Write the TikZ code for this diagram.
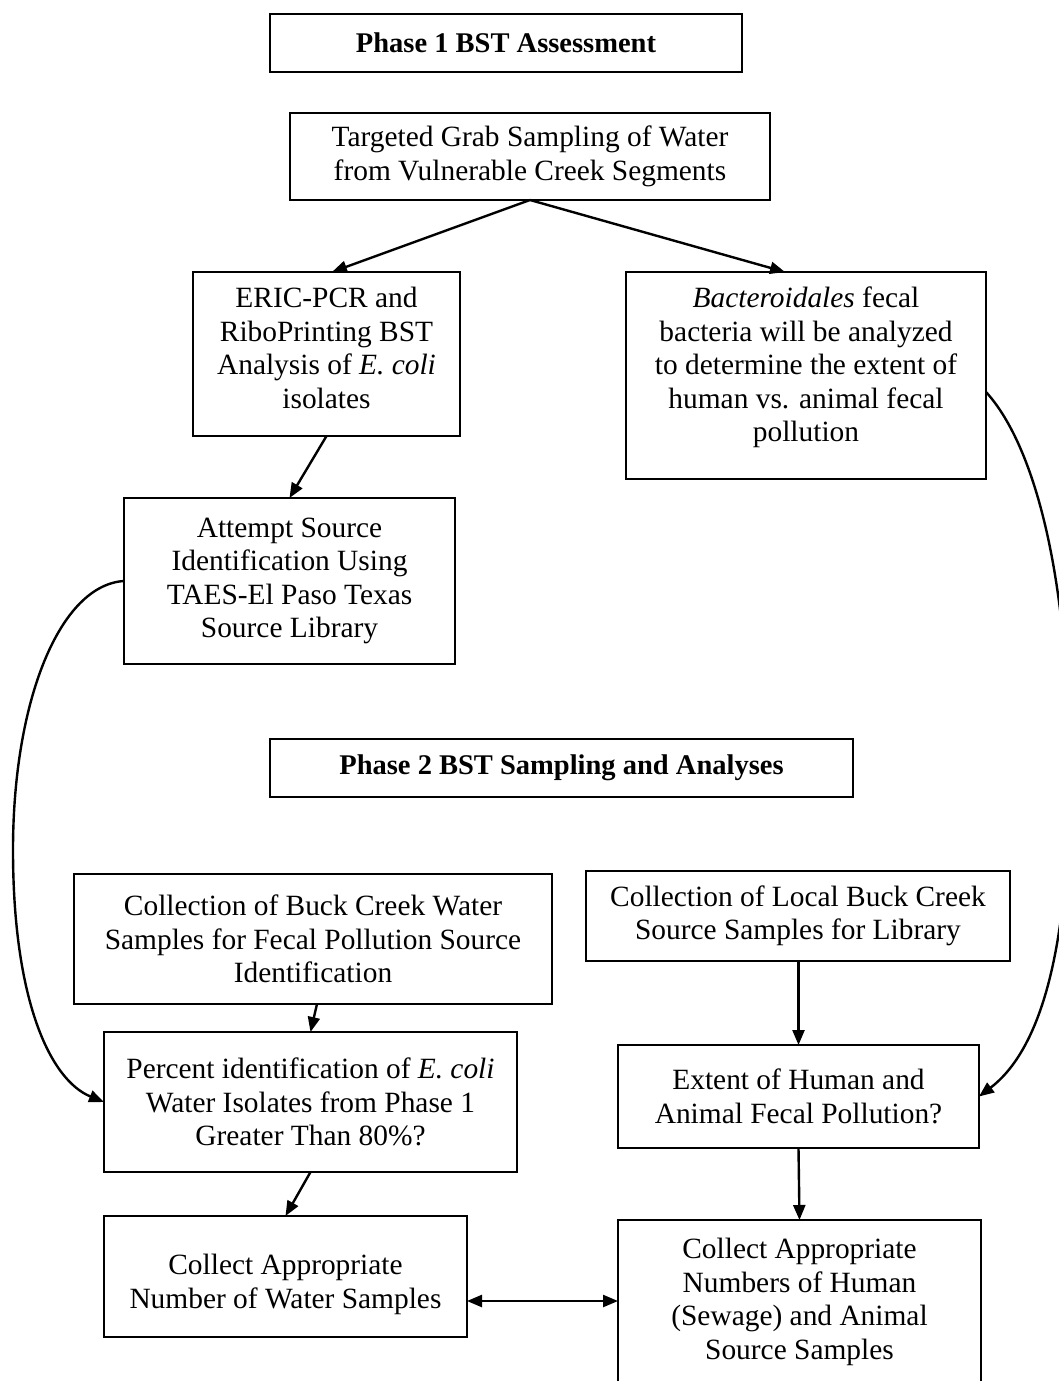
\documentclass[tikz,border=0pt]{standalone}
\usepackage{fontspec}
\setmainfont{Liberation Serif}
\usetikzlibrary{arrows.meta}
\begin{document}
\begin{tikzpicture}[x=1pt,y=-1pt,
  box/.style={draw, line width=2pt, inner sep=0pt, outer sep=0pt, align=center,
    font=\fontsize{29.4}{33.5}\selectfont},
  titlebox/.style={box, font=\fontsize{28.5}{33}\selectfont\bfseries},
  conn/.style={line width=2.4pt, -{Triangle[length=15pt,width=12pt]}},
  dconn/.style={line width=2.4pt, {Triangle[length=15pt,width=12pt]}-{Triangle[length=15pt,width=12pt]}},
]
\useasboundingbox (0,0) rectangle (1059,1381);
\clip (0,0) rectangle (1059,1381);

\node[titlebox, minimum width=472pt, minimum height=58pt] (p1) at (506,43) {Phase 1 BST Assessment};
\node[box, minimum width=480pt, minimum height=87pt] (tg) at (530,156.5)
  {Targeted Grab Sampling of Water\\from Vulnerable Creek Segments};
\node[box, minimum width=267pt, minimum height=164pt] (eric) at (326.5,354)
  {ERIC-PCR and\\RiboPrinting BST\\Analysis of \textit{E. coli}\\isolates\\[-21.5pt]\mbox{}};
\node[box, minimum width=360pt, minimum height=207pt] (bact) at (806,375.5)
  {\textit{Bacteroidales} fecal\\bacteria will be analyzed\\to determine the extent of\\human vs. animal fecal\\pollution\\[-11pt]\mbox{}};
\node[box, minimum width=331pt, minimum height=166pt] (att) at (289.5,581)
  {Attempt Source\\Identification Using\\TAES-El Paso Texas\\Source Library};
\node[titlebox, minimum width=583pt, minimum height=58pt] (p2) at (561.5,768) {Phase 2 BST Sampling and Analyses};
\node[box, minimum width=478pt, minimum height=130pt] (coll) at (313,939)
  {Collection of Buck Creek Water\\Samples for Fecal Pollution Source\\Identification};
\node[box, minimum width=424pt, minimum height=90pt] (loc) at (798,916)
  {Collection of Local Buck Creek\\Source Samples for Library};
\node[box, minimum width=413pt, minimum height=140pt] (pct) at (310.5,1102)
  {Percent identification of \textit{E. coli}\\Water Isolates from Phase 1\\Greater Than 80\%?};
\node[box, minimum width=361pt, minimum height=103pt] (ext) at (798.5,1096.5)
  {Extent of Human and\\Animal Fecal Pollution?};
\node[box, minimum width=363pt, minimum height=121pt] (num) at (285.5,1276.5)
  {\mbox{}\\[3pt]Collect Appropriate\\Number of Water Samples};
\node[box, minimum width=363pt, minimum height=164pt] (nums) at (799.5,1302)
  {Collect Appropriate\\Numbers of Human\\(Sewage) and Animal\\Source Samples};

\draw[conn] (tg.south) -- ([xshift=5.5pt]eric.north);
\draw[conn] (tg.south) -- ([xshift=-21pt]bact.north);
\draw[conn] (eric.south) -- (att.north);
\draw[conn] ([xshift=4pt]coll.south) -- (pct.north);
\draw[conn] (pct.south) -- (num.north);
\draw[conn] (ext.north |- loc.south) -- (ext.north);
\draw[conn] (ext.south) -- (nums.north);
\coordinate (dl) at ([yshift=-24.5pt]num.east);
\draw[dconn] (dl) -- (dl -| nums.west);

\draw[conn] (att.west) .. controls (60,585) and (13,700) .. (13,850)
  .. controls (13,1000) and (50,1080) .. (pct.west);
\draw[conn] ([yshift=-16.5pt]bact.east) .. controls (1030,440) and (1068,560) .. (1069,760)
  .. controls (1071,950) and (1040,1050) .. (ext.east);
\end{tikzpicture}
\end{document}
